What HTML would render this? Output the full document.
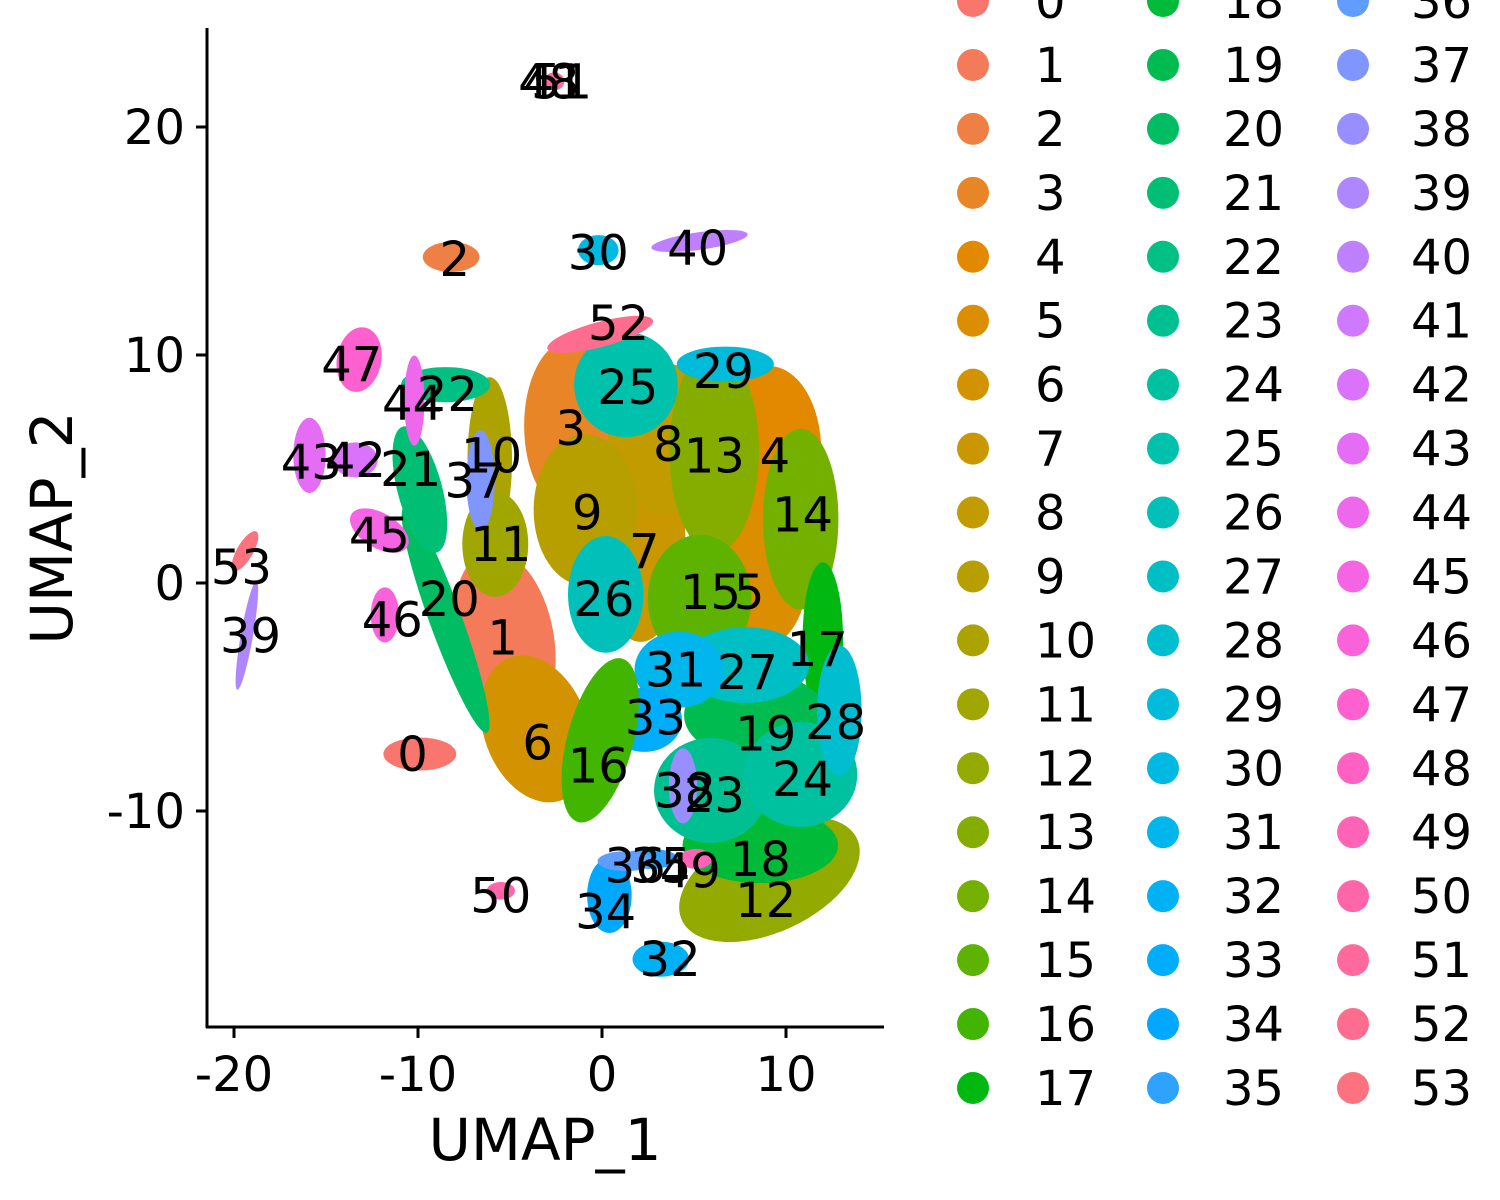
<!DOCTYPE html>
<html><head><meta charset="utf-8"><style>
html,body{margin:0;padding:0;background:#fff}
svg{display:block;font-family:"DejaVu Sans","Liberation Sans",sans-serif}
</style></head><body>
<svg id="chart" width="1500" height="1200" viewBox="0 0 1500 1200" xmlns="http://www.w3.org/2000/svg">
<g id="marks"></g>
<g id="labels"></g>
<g id="axes"></g>
<g id="legend"></g>
</svg>
<script>
const clusterIds = Array.from({length:54},(_,i)=>i);
const centerX = [-9.9,-5.3,-8.2,-1.8,9.1,8.3,-3.6,2.1,3.4,-0.9,-6.1,-5.8,9.1,6.1,10.8,5.3,-0.1,12.0,8.6,8.3,-8.5,-9.9,-8.5,5.9,10.8,1.3,0.2,7.8,12.9,6.7,-0.2,4.2,3.2,2.3,0.4,2.6,1.3,-6.6,4.4,-19.3,5.3,-2.6,-13.4,-15.9,-10.2,-12.1,-11.8,-13.2,-2.6,5.1,-5.5,-2.6,-0.1,-19.4];
const centerY = [-7.5,-2.5,14.3,6.9,5.8,0.1,-6.4,1.9,6.3,3.2,5.4,1.7,-13.0,5.8,2.8,-0.7,-6.9,-2.5,-11.5,-5.8,-1.6,4.1,8.7,-9.1,-8.4,8.7,-0.5,-3.6,-5.6,9.6,14.6,-3.8,-16.5,-6.0,-13.7,-12.1,-12.2,4.5,-8.9,-2.3,15.0,22.0,5.4,5.6,8.0,2.3,-1.4,9.8,22.0,-12.1,-13.5,22.0,10.9,1.4];
const spreadX = [1.8,2.1,1.4,1.9,2.2,2.2,2.2,1.9,2.4,2.2,1.1,1.4,4.1,1.9,1.6,2.2,1.4,1.0,3.3,3.0,0.8,1.1,2.2,2.4,2.4,2.2,1.6,2.7,1.1,2.4,1.0,1.9,1.4,1.6,1.1,1.4,1.4,0.7,0.7,0.3,2.4,0.5,1.1,0.8,0.5,1.6,0.7,1.1,0.5,0.8,0.7,0.5,2.7,0.4];
const spreadY = [0.66,3.1,0.6,2.9,2.9,2.4,2.6,3.5,2.6,2.6,3.3,1.8,1.8,3.5,3.1,2.2,2.9,3.1,1.3,1.5,4.8,2.6,0.7,1.8,1.8,1.8,2.0,1.3,2.6,0.7,0.6,1.3,0.7,1.1,1.5,0.4,0.4,2.0,1.5,2.2,0.35,0.35,0.7,1.5,1.8,0.7,1.1,1.3,0.35,0.4,0.35,0.35,0.5,0.9];
const tilt = [0,-10,0,0,0,0,-20,0,0,0,0,0,-25,0,0,0,15,0,0,0,-20,-15,0,0,0,0,0,0,0,0,0,0,0,0,0,0,0,0,0,10,-8,0,0,0,0,30,0,10,0,0,0,0,-15,30];
const labelX = [-10.3,-5.4,-8.0,-1.7,9.4,8.0,-3.5,2.3,3.6,-0.8,-6.0,-5.5,8.9,6.1,10.9,5.9,-0.2,11.7,8.6,8.9,-8.3,-10.4,-8.4,6.1,10.9,1.4,0.1,7.9,12.7,6.6,-0.2,4.0,3.7,2.9,0.2,3.2,1.8,-6.9,4.5,-19.1,5.2,-2.6,-13.4,-15.8,-10.3,-12.1,-11.4,-13.6,-2.9,4.8,-5.5,-2.2,0.9,-19.6];
const labelY = [-7.5,-2.4,14.2,6.8,5.6,-0.4,-7.0,1.4,6.1,3.1,5.6,1.7,-13.9,5.6,3.0,-0.4,-8.0,-2.9,-12.1,-6.6,-0.7,5.0,8.3,-9.3,-8.6,8.6,-0.7,-3.9,-6.1,9.3,14.5,-3.8,-16.5,-5.9,-14.4,-12.4,-12.4,4.5,-9.1,-2.3,14.7,22.0,5.4,5.3,7.9,2.1,-1.6,9.6,22.0,-12.6,-13.7,22.0,11.4,0.7];
const xTicks = [-20,-10,0,10];
const yTicks = [-10,0,10,20];
const xTickLabels = ["-20","-10","0","10"];
const yTickLabels = ["-10","0","10","20"];

const sx = v => 602 + 18.4*v;
const sy = v => 583 - 22.8*v;
const NS = "http://www.w3.org/2000/svg";

function hcl(h,c,l){
  const hr=h*Math.PI/180, u=c*Math.cos(hr), v=c*Math.sin(hr);
  const Y=100*Math.pow((l+16)/116,3);
  const up=u/(13*l)+0.19783, vp=v/(13*l)+0.46832;
  const X=Y*9*up/(4*vp), Z=Y*(12-3*up-20*vp)/(4*vp);
  const x=X/100,y=Y/100,z=Z/100;
  let r=3.2406*x-1.5372*y-0.4986*z, g=-0.9689*x+1.8758*y+0.0415*z, b=0.0557*x-0.2040*y+1.0570*z;
  const gm=t=>{t=t<=0.0031308?12.92*t:1.055*Math.pow(t,1/2.4)-0.055;return Math.round(255*Math.min(1,Math.max(0,t)));};
  return `rgb(${gm(r)},${gm(g)},${gm(b)})`;
}
const colors = clusterIds.map(i=>hcl(15+i*360/54,100,65));

const marks=document.getElementById('marks');
const order=[1,3,4,5,6,7,8,9,13,14,15,17,26,10,11,12,18,19,23,24,27,28,31,33,25,29,16,0,2,20,21,22,37,38,30,32,34,35,36,39,40,41,42,43,44,45,46,47,48,49,50,51,52,53];
order.forEach(i=>{
  const e=document.createElementNS(NS,'ellipse');
  const cx=sx(centerX[i]), cy=sy(centerY[i]);
  const big = spreadX[i]>=1.4 && spreadY[i]>=1.0;
  const k = big ? 1.28 : 1.1;
  e.setAttribute('cx',cx);e.setAttribute('cy',cy);
  e.setAttribute('rx',k*Math.abs(sx(spreadX[i])-sx(0)));
  e.setAttribute('ry',k*Math.abs(sy(spreadY[i])-sy(0)));
  e.setAttribute('transform',`rotate(${tilt[i]} ${cx} ${cy})`);
  e.setAttribute('fill',colors[i]);
  
  
  marks.appendChild(e);
});
const labels=document.getElementById('labels');
clusterIds.forEach(i=>{
  const t=document.createElementNS(NS,'text');
  t.setAttribute('x',sx(labelX[i]));t.setAttribute('y',sy(labelY[i])+17);
  t.setAttribute('text-anchor','middle');t.setAttribute('font-size','48');t.setAttribute('fill','#000');
  t.textContent=String(i);
  
  
  labels.appendChild(t);
});
const axes=document.getElementById('axes');
let h='';
h+=`<line x1="206" y1="1027" x2="884" y2="1027" stroke="#000" stroke-width="3"/>`;
h+=`<line x1="207" y1="28" x2="207" y2="1028" stroke="#000" stroke-width="3"/>`;
axes.innerHTML=h;
xTicks.forEach((v,k)=>{
  const l=document.createElementNS(NS,'line');
  l.setAttribute('x1',sx(v));l.setAttribute('x2',sx(v));l.setAttribute('y1',1027);l.setAttribute('y2',1038);
  l.setAttribute('stroke','#000');l.setAttribute('stroke-width','3');
  
  
  axes.appendChild(l);
  const t=document.createElementNS(NS,'text');
  t.setAttribute('x',sx(v));t.setAttribute('y',1091);t.setAttribute('text-anchor','middle');t.setAttribute('font-size','48');
  t.textContent=xTickLabels[k];
  
  
  axes.appendChild(t);
});
yTicks.forEach((v,k)=>{
  const l=document.createElementNS(NS,'line');
  l.setAttribute('x1',196);l.setAttribute('x2',207);l.setAttribute('y1',sy(v));l.setAttribute('y2',sy(v));
  l.setAttribute('stroke','#000');l.setAttribute('stroke-width','3');
  
  
  axes.appendChild(l);
  const t=document.createElementNS(NS,'text');
  t.setAttribute('x',185);t.setAttribute('y',sy(v)+17);t.setAttribute('text-anchor','end');t.setAttribute('font-size','48');
  t.textContent=yTickLabels[k];
  
  
  axes.appendChild(t);
});
axes.insertAdjacentHTML('beforeend',`<text x="545" y="1160" text-anchor="middle" font-size="58">UMAP_1</text><text transform="translate(72 528) rotate(-90)" text-anchor="middle" font-size="58">UMAP_2</text>`);
const legend=document.getElementById('legend');
clusterIds.forEach(i=>{
  const col=Math.floor(i/18), row=i%18;
  const y=1+63.94*row;
  const g=document.createElementNS(NS,'g');
  
  
  const c=document.createElementNS(NS,'circle');
  c.setAttribute('cx',973+190*col);c.setAttribute('cy',y);c.setAttribute('r',16);c.setAttribute('fill',colors[i]);
  
  
  const t=document.createElementNS(NS,'text');
  t.setAttribute('x',1035+188*col);t.setAttribute('y',y+17);t.setAttribute('font-size','48');
  t.textContent=String(i);
  
  
  g.appendChild(c);g.appendChild(t);legend.appendChild(g);
});
</script>
</body></html>
